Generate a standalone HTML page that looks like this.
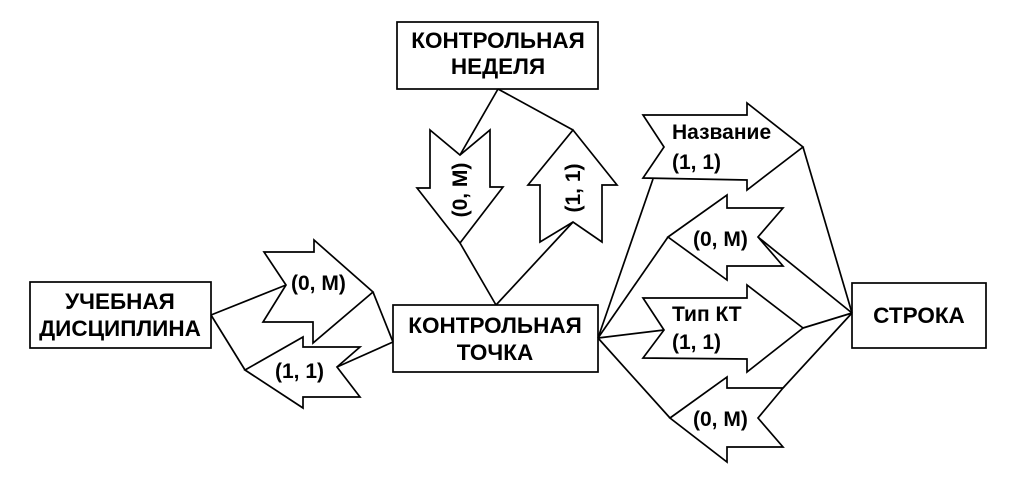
<!DOCTYPE html>
<html><head><meta charset="utf-8"><style>
html,body{margin:0;padding:0;background:#fff;}
svg{display:block;}
text{font-family:"Liberation Sans",Arial,sans-serif;font-weight:bold;fill:#000;}
.b{font-size:22.5px;text-anchor:middle;}
.l{font-size:21px;}
</style></head><body>
<svg width="1012" height="483" viewBox="0 0 1012 483" xmlns="http://www.w3.org/2000/svg">
<g fill="#fff" stroke="#000" stroke-width="1.7" stroke-linejoin="miter">
<rect x="30" y="282" width="181" height="66"/>
<rect x="397" y="22" width="201" height="67"/>
<rect x="393" y="305" width="205" height="67"/>
<rect x="852" y="283" width="134" height="65"/>
<polygon points="264,252 314,252 314,240 373,292 313,343 313,322 263,322 286,285"/>
<polygon points="245,370 303,337 303,347 360,347 337,367 360,397 303,397 303,408"/>
<polygon points="430,130 460,155 490,130 490,187 503,187 460,243 417,188 430,188"/>
<polygon points="573,130 617,185 602,185 602,242 573,222 540,242 540,185 528,185"/>
<polygon points="643,115 747,115 747,103 803,147 747,190 747,180 643,178 664,147"/>
<polygon points="668,237 727,195 727,208 783,208 758,237 783,266 727,266 727,280"/>
<polygon points="643,298 747,298 747,285 803,328 747,372 747,359 643,358 664,330"/>
<polygon points="670,418 727,377 727,388 783,388 758,418 783,447 727,447 727,462"/>
</g>
<g stroke="#000" stroke-width="1.7" fill="none">
<line x1="211" y1="315" x2="286" y2="285"/>
<line x1="373" y1="292" x2="393" y2="342"/>
<line x1="211" y1="315" x2="245" y2="370"/>
<line x1="337" y1="367" x2="393" y2="342"/>
<line x1="498" y1="89" x2="460" y2="155"/>
<line x1="498" y1="89" x2="573" y2="130"/>
<line x1="460" y1="243" x2="496" y2="305"/>
<line x1="573" y1="222" x2="496" y2="305"/>
<line x1="598" y1="338" x2="653" y2="179"/>
<line x1="598" y1="338" x2="668" y2="237"/>
<line x1="598" y1="338" x2="664" y2="330"/>
<line x1="598" y1="338" x2="670" y2="418"/>
<line x1="803" y1="147" x2="852" y2="313"/>
<line x1="758" y1="237" x2="852" y2="313"/>
<line x1="803" y1="328" x2="852" y2="313"/>
<line x1="783" y1="388" x2="852" y2="313"/>
</g>
<text class="b" x="120" y="309">УЧЕБНАЯ</text>
<text class="b" x="120" y="336">ДИСЦИПЛИНА</text>
<text class="b" x="498" y="48">КОНТРОЛЬНАЯ</text>
<text class="b" x="498" y="74">НЕДЕЛЯ</text>
<text class="b" x="495" y="333">КОНТРОЛЬНАЯ</text>
<text class="b" x="495" y="360">ТОЧКА</text>
<text class="b" x="919" y="323">СТРОКА</text>
<text class="l" x="291" y="290">(0, M)</text>
<text class="l" x="275" y="378">(1, 1)</text>
<text class="l" text-anchor="middle" transform="translate(467,190) rotate(-90)">(0, M)</text>
<text class="l" text-anchor="middle" transform="translate(580,188) rotate(-90)">(1, 1)</text>
<text class="l" x="672" y="139">Название</text>
<text class="l" x="672" y="169">(1, 1)</text>
<text class="l" x="693" y="246">(0, M)</text>
<text class="l" x="672" y="321">Тип КТ</text>
<text class="l" x="672" y="349">(1, 1)</text>
<text class="l" x="693" y="426">(0, M)</text>
</svg>
</body></html>
